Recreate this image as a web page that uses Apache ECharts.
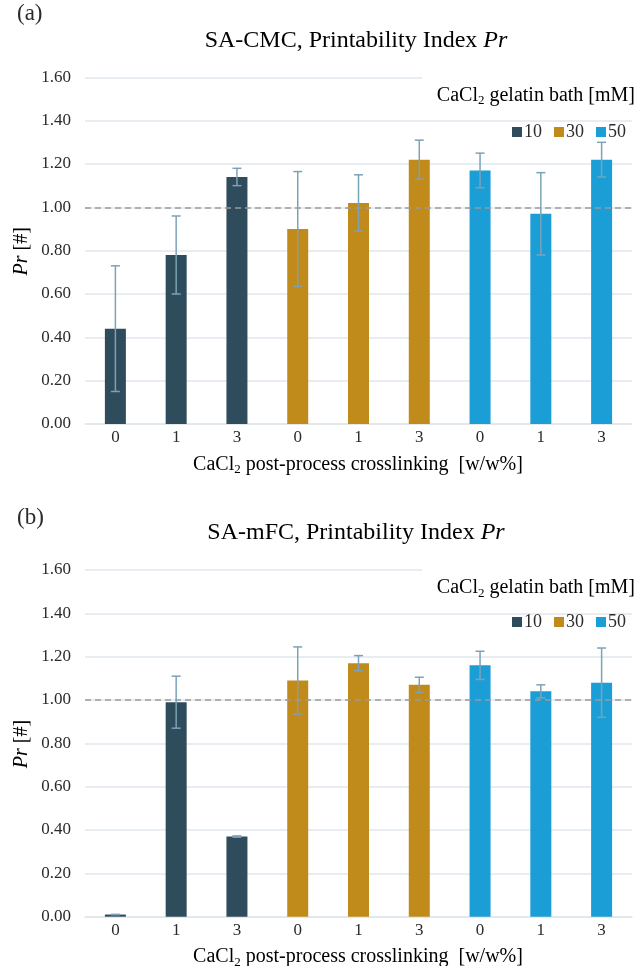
<!DOCTYPE html>
<html>
<head>
<meta charset="utf-8">
<script src="https://cdn.jsdelivr.net/npm/echarts@6/dist/echarts.min.js"></script>
<style>
  html, body { margin: 0; padding: 0; background: #fff; }
  #chart { width: 638px; height: 966px; }
</style>
</head>
<body>
<div id="chart"></div>
<script>
// Post-process CaCl2 crosslinking levels, repeated for each gelatin-bath concentration
const categories = ['0', '1', '3', '0', '1', '3', '0', '1', '3'];
const bathLevels = ['10', '30', '50'];
const yTicks = [0, 0.2, 0.4, 0.6, 0.8, 1.0, 1.2, 1.4, 1.6];

// Panel (a): SA-CMC printability index, mean and ± deviation
const cmc10 = [0.44, 0.78, 1.14];
const cmc30 = [0.90, 1.02, 1.22];
const cmc50 = [1.17, 0.97, 1.22];
const cmcErr10 = [0.29, 0.18, 0.04];
const cmcErr30 = [0.265, 0.13, 0.09];
const cmcErr50 = [0.08, 0.19, 0.08];

// Panel (b): SA-mFC printability index, mean and ± deviation
const mfc10 = [0.01, 0.99, 0.37];
const mfc30 = [1.09, 1.17, 1.07];
const mfc50 = [1.16, 1.04, 1.08];
const mfcErr10 = [0, 0.12, 0.003];
const mfcErr30 = [0.155, 0.035, 0.035];
const mfcErr50 = [0.065, 0.03, 0.16];

const colors = ['#2f4c5c', '#c08b1b', '#1b9ed6'];
const errColor = '#7ba2b8';
const gridColor = '#dfe7ee';
const font = "'Liberation Serif', 'DejaVu Serif', serif";
const textColor = '#2b2b2b';

// Spread one group's three values into its slots of the 9-category axis
function place(values, group) {
  const out = new Array(categories.length).fill(null);
  values.forEach((v, i) => { out[group * 3 + i] = v; });
  return out;
}

function errorData(groups, errs) {
  const out = [];
  groups.forEach((vals, g) => {
    vals.forEach((v, i) => {
      out.push([g * 3 + i, v - errs[g][i], v + errs[g][i]]);
    });
  });
  return out;
}

function renderError(params, api) {
  const x = api.value(0);
  const lo = api.coord([x, api.value(1)]);
  const hi = api.coord([x, api.value(2)]);
  const cap = 4.5;
  const style = { stroke: errColor, lineWidth: 1.5, fill: null };
  return {
    type: 'group',
    children: [
      { type: 'line', shape: { x1: lo[0], y1: lo[1], x2: hi[0], y2: hi[1] }, style },
      { type: 'line', shape: { x1: hi[0] - cap, y1: hi[1], x2: hi[0] + cap, y2: hi[1] }, style },
      { type: 'line', shape: { x1: lo[0] - cap, y1: lo[1], x2: lo[0] + cap, y2: lo[1] }, style }
    ]
  };
}

const grids = [
  { left: 85, top: 77.3, width: 547, height: 346.7 },
  { left: 85, top: 570, width: 547, height: 346.7 }
];

function xAxisFor(i) {
  return {
    type: 'category', gridIndex: i, data: categories,
    axisLine: { lineStyle: { color: gridColor, width: 1.5 } },
    axisTick: { show: false },
    axisLabel: { fontFamily: font, fontSize: 17, color: textColor, margin: 5 }
  };
}

function yAxisFor(i) {
  return {
    type: 'value', gridIndex: i, min: 0, max: 1.6, interval: 0.2,
    axisLine: { show: false }, axisTick: { show: false },
    splitLine: { lineStyle: { color: gridColor, width: 1.5 } },
    axisLabel: {
      fontFamily: font, fontSize: 17, color: textColor, margin: 14,
      formatter: v => yTicks.includes(Math.round(v * 10) / 10) ? v.toFixed(2) : ''
    }
  };
}

function panelSeries(i, groups, errs) {
  const list = groups.map((vals, g) => ({
    name: bathLevels[g], type: 'bar', stack: 'panel' + i,
    xAxisIndex: i, yAxisIndex: i, barWidth: 21,
    itemStyle: { color: colors[g] },
    data: place(vals, g),
    markLine: g === 0 ? {
      silent: true, symbol: 'none', label: { show: false },
      lineStyle: { color: '#9a9a9a', type: [6, 4], width: 1.6 },
      data: [{ yAxis: 1 }]
    } : undefined
  }));
  list.push({
    type: 'custom', xAxisIndex: i, yAxisIndex: i, z: 5,
    renderItem: renderError, data: errorData(groups, errs)
  });
  return list;
}

const sub = {
  a: { fontFamily: font, fontSize: 20, color: textColor, lineHeight: 24 },
  s: { fontFamily: font, fontSize: 13, color: textColor, lineHeight: 13, verticalAlign: 'bottom' },
  i: { fontFamily: font, fontSize: 20, color: textColor, fontStyle: 'italic', lineHeight: 24 },
  t: { fontFamily: font, fontSize: 24, color: textColor, lineHeight: 28 },
  ti: { fontFamily: font, fontSize: 24, color: textColor, fontStyle: 'italic', lineHeight: 28 }
};

function panelGraphics(top, letterTop, letter, title) {
  return [
    { type: 'text', left: 17, top: letterTop, z: 100,
      style: { text: letter, font: '23px ' + font, fill: textColor } },
    { type: 'text', x: 356, y: top - 37, z: 100,
      style: { text: '{t|' + title + '}{ti|Pr}', rich: sub, align: 'center', verticalAlign: 'middle' } },
    // white backing behind the legend title, hiding the top gridline there
    { type: 'rect', z: 90, shape: { x: 422, y: top - 4, width: 216, height: 8 }, style: { fill: '#fff' } },
    { type: 'text', x: 635, y: top + 18, z: 100,
      style: { text: '{a|CaCl}{s|2}{a| gelatin bath [mM]}', rich: sub, align: 'right', verticalAlign: 'middle' } },
    { type: 'text', x: 358, y: top + 387, z: 100,
      style: { text: '{a|CaCl}{s|2}{a| post-process crosslinking  [w/w%]}', rich: sub, align: 'center', verticalAlign: 'middle' } },
    { type: 'text', x: 22, y: top + 174, rotation: Math.PI / 2, z: 100,
      style: { text: '{i|Pr}{a| [#]}', rich: sub, align: 'center', verticalAlign: 'middle' } }
  ];
}

function legendFor(i, top) {
  return {
    data: bathLevels, right: 7, top: top,
    itemWidth: 10, itemHeight: 10, itemGap: 12, icon: 'rect',
    textStyle: { fontFamily: font, fontSize: 18, color: textColor, padding: [0, 0, 0, -3] },
    selectedMode: false
  };
}

const chart = echarts.init(document.getElementById('chart'), null, { renderer: 'canvas' });
chart.setOption({
  backgroundColor: '#fff',
  animation: false,
  grid: grids,
  xAxis: [xAxisFor(0), xAxisFor(1)],
  yAxis: [yAxisFor(0), yAxisFor(1)],
  legend: [legendFor(0, 118), legendFor(1, 608)],
  series: [
    ...panelSeries(0, [cmc10, cmc30, cmc50], [cmcErr10, cmcErr30, cmcErr50]),
    ...panelSeries(1, [mfc10, mfc30, mfc50], [mfcErr10, mfcErr30, mfcErr50])
  ],
  graphic: [
    ...panelGraphics(77.3, 2, '(a)', 'SA-CMC, Printability Index '),
    ...panelGraphics(570, 506, '(b)', 'SA-mFC, Printability Index ')
  ]
});
</script>
</body>
</html>
